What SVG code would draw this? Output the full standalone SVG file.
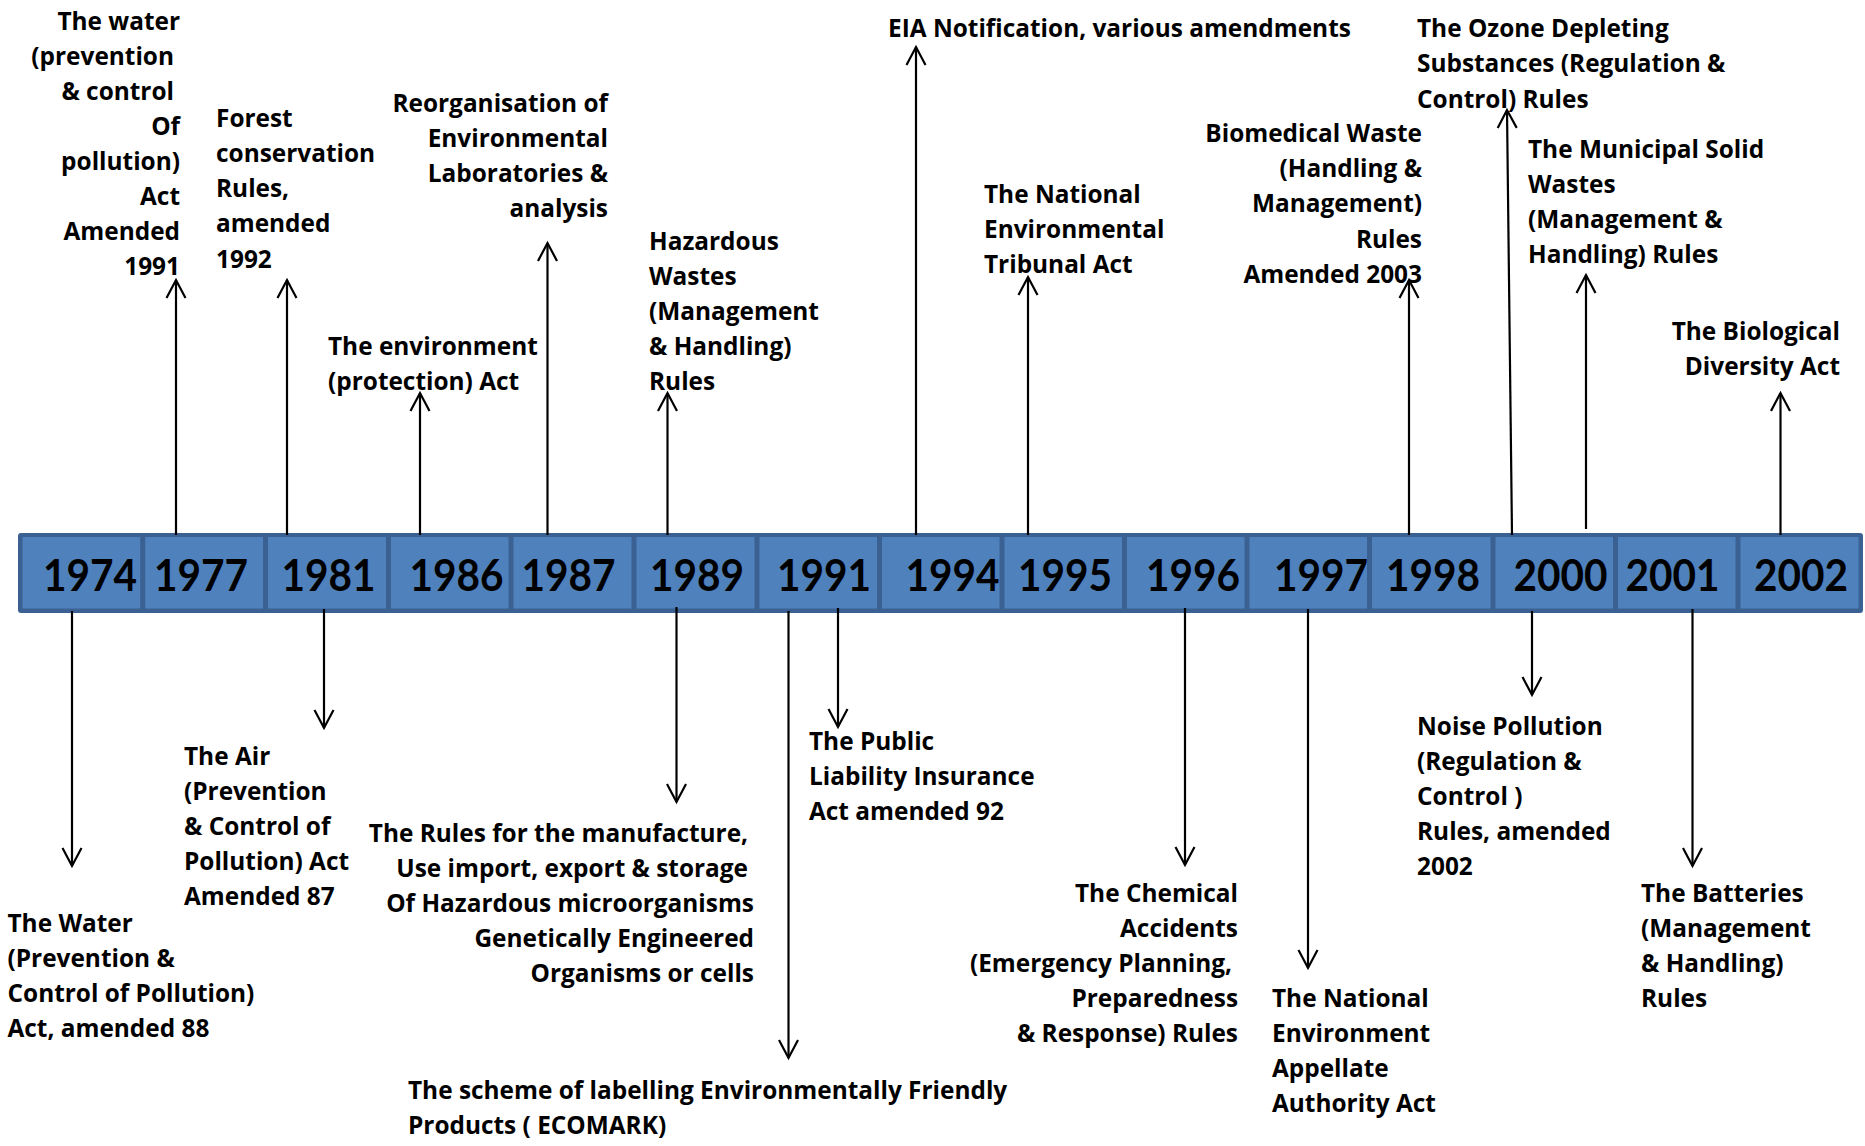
<svg xmlns="http://www.w3.org/2000/svg" width="1865" height="1146" viewBox="0 0 1865 1146">
  <style>
    .t { font-family: "Open Sans", "Liberation Sans", sans-serif; font-weight: 700; font-size: 24.4px; fill: #000; }
    .r { text-anchor: end; }
    .yr { font-family: Lato, "Liberation Sans", sans-serif; font-weight: 700; font-size: 43px; fill: #000; text-anchor: middle; }
    .seg { fill: #4f81bd; }
    .edge { fill: #3b6192; }
    .ln { stroke: #000; stroke-width: 2.2; fill: none; marker-end: url(#arr); }
  </style>
  <defs>
    <marker id="arr" markerUnits="userSpaceOnUse" markerWidth="26" markerHeight="26" refX="21" refY="13" orient="auto">
      <path d="M3,3.5 L21,13 L3,22.5" fill="none" stroke="#000" stroke-width="2.2"/>
    </marker>
  </defs>
  <rect width="1865" height="1146" fill="#fff"/>

  <!-- timeline bar -->
  <g id="timeline">
    <rect class="edge" x="18" y="533" width="1845" height="80" rx="3"/>
    <g id="y1974"><rect class="seg" x="22.5" y="537" width="117.7" height="71.5"/><text class="yr" x="90" y="591" textLength="94" lengthAdjust="spacingAndGlyphs">1974</text></g>
    <g id="y1977"><rect class="seg" x="145.2" y="537" width="117.8" height="71.5"/><text class="yr" x="201" y="591" textLength="94" lengthAdjust="spacingAndGlyphs">1977</text></g>
    <g id="y1981"><rect class="seg" x="268" y="537" width="118" height="71.5"/><text class="yr" x="328.5" y="591" textLength="94" lengthAdjust="spacingAndGlyphs">1981</text></g>
    <g id="y1986"><rect class="seg" x="391" y="537" width="117.5" height="71.5"/><text class="yr" x="456.5" y="591" textLength="94" lengthAdjust="spacingAndGlyphs">1986</text></g>
    <g id="y1987"><rect class="seg" x="513.5" y="537" width="118" height="71.5"/><text class="yr" x="568.5" y="591" textLength="94" lengthAdjust="spacingAndGlyphs">1987</text></g>
    <g id="y1989"><rect class="seg" x="636.5" y="537" width="118" height="71.5"/><text class="yr" x="697" y="591" textLength="94" lengthAdjust="spacingAndGlyphs">1989</text></g>
    <g id="y1991"><rect class="seg" x="759.5" y="537" width="117.5" height="71.5"/><text class="yr" x="824" y="591" textLength="94" lengthAdjust="spacingAndGlyphs">1991</text></g>
    <g id="y1994"><rect class="seg" x="882" y="537" width="117.5" height="71.5"/><text class="yr" x="952.5" y="591" textLength="94" lengthAdjust="spacingAndGlyphs">1994</text></g>
    <g id="y1995"><rect class="seg" x="1004.5" y="537" width="117.5" height="71.5"/><text class="yr" x="1065" y="591" textLength="94" lengthAdjust="spacingAndGlyphs">1995</text></g>
    <g id="y1996"><rect class="seg" x="1127" y="537" width="117.5" height="71.5"/><text class="yr" x="1193" y="591" textLength="94" lengthAdjust="spacingAndGlyphs">1996</text></g>
    <g id="y1997"><rect class="seg" x="1249.5" y="537" width="117.5" height="71.5"/><text class="yr" x="1321" y="591" textLength="94" lengthAdjust="spacingAndGlyphs">1997</text></g>
    <g id="y1998"><rect class="seg" x="1372" y="537" width="118.5" height="71.5"/><text class="yr" x="1433" y="591" textLength="94" lengthAdjust="spacingAndGlyphs">1998</text></g>
    <g id="y2000"><rect class="seg" x="1495.5" y="537" width="117.5" height="71.5"/><text class="yr" x="1560.5" y="591" textLength="94" lengthAdjust="spacingAndGlyphs">2000</text></g>
    <g id="y2001"><rect class="seg" x="1618" y="537" width="117.5" height="71.5"/><text class="yr" x="1672.5" y="591" textLength="94" lengthAdjust="spacingAndGlyphs">2001</text></g>
    <g id="y2002"><rect class="seg" x="1740.5" y="537" width="118" height="71.5"/><text class="yr" x="1801" y="591" textLength="94" lengthAdjust="spacingAndGlyphs">2002</text></g>
  </g>

  <!-- events above the bar -->
  <g id="ev-water-1974">
    <text class="t r"><tspan x="180" y="30">The water</tspan><tspan x="174" y="65">(prevention</tspan><tspan x="174" y="100">&amp; control</tspan><tspan x="180" y="135">Of</tspan><tspan x="180" y="170">pollution)</tspan><tspan x="180" y="205">Act</tspan><tspan x="180" y="240">Amended</tspan><tspan x="180" y="275">1991</tspan></text>
  </g>
  <g id="ev-forest">
    <text class="t"><tspan x="216" y="127">Forest</tspan><tspan x="216" y="162">conservation</tspan><tspan x="216" y="197">Rules,</tspan><tspan x="216" y="232">amended</tspan><tspan x="216" y="268">1992</tspan></text>
  </g>
  <g id="ev-environment">
    <text class="t"><tspan x="328" y="355">The environment</tspan><tspan x="328" y="390">(protection) Act</tspan></text>
  </g>
  <g id="ev-laboratories">
    <text class="t r"><tspan x="608" y="112">Reorganisation of</tspan><tspan x="608" y="147">Environmental</tspan><tspan x="608" y="182">Laboratories &amp;</tspan><tspan x="608" y="217">analysis</tspan></text>
  </g>
  <g id="ev-hazardous">
    <text class="t"><tspan x="649" y="250">Hazardous</tspan><tspan x="649" y="285">Wastes</tspan><tspan x="649" y="320">(Management</tspan><tspan x="649" y="355">&amp; Handling)</tspan><tspan x="649" y="390">Rules</tspan></text>
  </g>
  <g id="ev-eia">
    <text class="t" x="888" y="37">EIA Notification, various amendments</text>
  </g>
  <g id="ev-tribunal">
    <text class="t"><tspan x="984" y="203">The National</tspan><tspan x="984" y="238">Environmental</tspan><tspan x="984" y="273">Tribunal Act</tspan></text>
  </g>
  <g id="ev-biomedical">
    <text class="t r"><tspan x="1422" y="142">Biomedical Waste</tspan><tspan x="1422" y="177">(Handling &amp;</tspan><tspan x="1422" y="212">Management)</tspan><tspan x="1422" y="248">Rules</tspan><tspan x="1422" y="283">Amended 2003</tspan></text>
  </g>
  <g id="ev-ozone">
    <text class="t"><tspan x="1417" y="37">The Ozone Depleting</tspan><tspan x="1417" y="72">Substances (Regulation &amp;</tspan><tspan x="1417" y="108">Control) Rules</tspan></text>
  </g>
  <g id="ev-municipal">
    <text class="t"><tspan x="1528" y="158">The Municipal Solid</tspan><tspan x="1528" y="193">Wastes</tspan><tspan x="1528" y="228">(Management &amp;</tspan><tspan x="1528" y="263">Handling) Rules</tspan></text>
  </g>
  <g id="ev-biodiversity">
    <text class="t r"><tspan x="1840" y="340">The Biological</tspan><tspan x="1840" y="375">Diversity Act</tspan></text>
  </g>

  <!-- events below the bar -->
  <g id="ev-water-88">
    <text class="t"><tspan x="7.5" y="932">The Water</tspan><tspan x="7.5" y="967">(Prevention &amp;</tspan><tspan x="7.5" y="1002">Control of Pollution)</tspan><tspan x="7.5" y="1037">Act, amended 88</tspan></text>
  </g>
  <g id="ev-air">
    <text class="t"><tspan x="184" y="765">The Air</tspan><tspan x="184" y="800">(Prevention</tspan><tspan x="184" y="835">&amp; Control of</tspan><tspan x="184" y="870">Pollution) Act</tspan><tspan x="184" y="905">Amended 87</tspan></text>
  </g>
  <g id="ev-microorganisms">
    <text class="t r"><tspan x="748" y="842">The Rules for the manufacture,</tspan><tspan x="748" y="877">Use import, export &amp; storage</tspan><tspan x="754" y="912">Of Hazardous microorganisms</tspan><tspan x="754" y="947">Genetically Engineered</tspan><tspan x="754" y="982">Organisms or cells</tspan></text>
  </g>
  <g id="ev-ecomark">
    <text class="t"><tspan x="408" y="1099">The scheme of labelling Environmentally Friendly</tspan><tspan x="408" y="1134">Products ( ECOMARK)</tspan></text>
  </g>
  <g id="ev-liability">
    <text class="t"><tspan x="809" y="750">The Public</tspan><tspan x="809" y="785">Liability Insurance</tspan><tspan x="809" y="820">Act amended 92</tspan></text>
  </g>
  <g id="ev-chemical">
    <text class="t r"><tspan x="1238" y="902">The Chemical</tspan><tspan x="1238" y="937">Accidents</tspan><tspan x="1232" y="972">(Emergency Planning,</tspan><tspan x="1238" y="1007">Preparedness</tspan><tspan x="1238" y="1042">&amp; Response) Rules</tspan></text>
  </g>
  <g id="ev-appellate">
    <text class="t"><tspan x="1272" y="1007">The National</tspan><tspan x="1272" y="1042">Environment</tspan><tspan x="1272" y="1077">Appellate</tspan><tspan x="1272" y="1112">Authority Act</tspan></text>
  </g>
  <g id="ev-noise">
    <text class="t"><tspan x="1417" y="735">Noise Pollution</tspan><tspan x="1417" y="770">(Regulation &amp;</tspan><tspan x="1417" y="805">Control )</tspan><tspan x="1417" y="840">Rules, amended</tspan><tspan x="1417" y="875">2002</tspan></text>
  </g>
  <g id="ev-batteries">
    <text class="t"><tspan x="1641" y="902">The Batteries</tspan><tspan x="1641" y="937">(Management</tspan><tspan x="1641" y="972">&amp; Handling)</tspan><tspan x="1641" y="1007">Rules</tspan></text>
  </g>

  <!-- connectors from the bar to each event -->
  <g id="connectors">
    <line class="ln" x1="176" y1="535" x2="176" y2="280"/>
    <line class="ln" x1="287" y1="535" x2="287" y2="280"/>
    <line class="ln" x1="420" y1="535" x2="420" y2="393"/>
    <line class="ln" x1="547.5" y1="535" x2="547.5" y2="243"/>
    <line class="ln" x1="667.5" y1="535" x2="667.5" y2="393"/>
    <line class="ln" x1="916" y1="535" x2="916" y2="47"/>
    <line class="ln" x1="1028" y1="535" x2="1028" y2="277"/>
    <line class="ln" x1="1409" y1="535" x2="1409" y2="280"/>
    <line class="ln" x1="1512" y1="535" x2="1507" y2="110"/>
    <line class="ln" x1="1586" y1="529" x2="1586" y2="275"/>
    <line class="ln" x1="1780.5" y1="535" x2="1780.5" y2="393"/>

    <line class="ln" x1="72" y1="611" x2="72" y2="866"/>
    <line class="ln" x1="324" y1="609" x2="324" y2="728"/>
    <line class="ln" x1="676.5" y1="607" x2="676.5" y2="802"/>
    <line class="ln" x1="788.5" y1="611" x2="788.5" y2="1058"/>
    <line class="ln" x1="838" y1="608" x2="838" y2="727"/>
    <line class="ln" x1="1185" y1="608" x2="1185" y2="865"/>
    <line class="ln" x1="1308" y1="609" x2="1308" y2="968"/>
    <line class="ln" x1="1532" y1="611" x2="1532" y2="695"/>
    <line class="ln" x1="1692.5" y1="609" x2="1692.5" y2="866"/>
  </g>
</svg>
